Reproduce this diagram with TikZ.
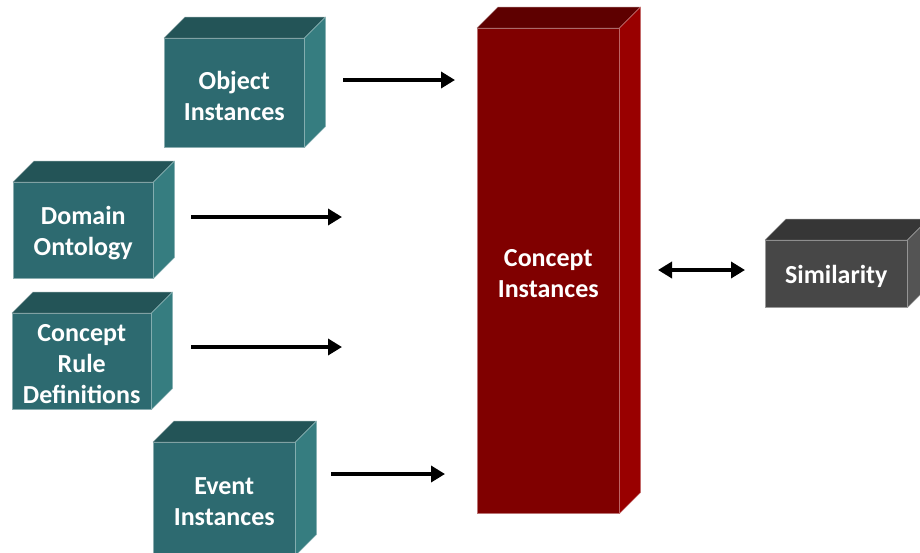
\documentclass[tikz,border=0pt]{standalone}
\usepackage{fontspec}
\setmainfont{Carlito}
\usetikzlibrary{arrows.meta}

\definecolor{tealfront}{HTML}{2D6A70}
\definecolor{tealtop}{HTML}{235457}
\definecolor{tealside}{HTML}{367D80}
\definecolor{redfront}{HTML}{800000}
\definecolor{redtop}{HTML}{5E0000}
\definecolor{redside}{HTML}{990000}
\definecolor{grayfront}{HTML}{474747}
\definecolor{graytop}{HTML}{363636}
\definecolor{grayside}{HTML}{545454}

\tikzset{
  frontface/.style={fill=#1, draw=#1!55!white, line width=0.5pt, inner sep=0pt,
    anchor=north west},
  sideface/.style={fill=#1, draw=#1!55!white, line width=0.5pt, line join=round},
  boxlabel/.style={align=center, text=white, inner sep=0pt,
    font=\bfseries\fontsize{26}{31}\selectfont},
  flow/.style={line width=4pt, -{Triangle[length=14pt,width=16pt]}},
  twoway/.style={line width=4pt,
    {Triangle[length=14pt,width=16pt]}-{Triangle[length=14pt,width=16pt]}},
}

% \blockbox{name}{x1}{y1}{x2}{y2}{front}{top}{side}{label}
\newcommand{\blockbox}[9]{%
  \node[frontface=#6, minimum width={(#4)-(#2)}, minimum height={(#5)-(#3)}]
    (#1) at (#2,#3) {};
  \path[sideface=#7] (#1.north west) -- ++(21,-21)
    -- ([shift={(21,-21)}]#1.north east) -- (#1.north east) -- cycle;
  \path[sideface=#8] (#1.north east) -- ++(21,-21)
    -- ([shift={(21,-21)}]#1.south east) -- (#1.south east) -- cycle;
  \node[boxlabel] (#1-text) at ([yshift=-3pt]#1.center) {#9};
}

\begin{document}
\begin{tikzpicture}[x=1pt, y=-1pt]
  \clip (0,0) rectangle (920,552);
  \fill[white] (0,0) rectangle (920,552);

  \blockbox{obj}{164}{38}{304}{147}{tealfront}{tealtop}{tealside}{Object\\Instances}
  \blockbox{dom}{13}{182}{153}{278}{tealfront}{tealtop}{tealside}{Domain\\Ontology}
  \blockbox{rule}{12}{313}{151}{409}{tealfront}{tealtop}{tealside}{Concept\\Rule\\Definitions}
  \blockbox{evt}{153}{442}{295}{555}{tealfront}{tealtop}{tealside}{Event\\Instances}
  \blockbox{ci}{477}{28}{619}{513}{redfront}{redtop}{redside}{Concept\\Instances}
  \blockbox{sim}{765}{240}{907}{307}{grayfront}{graytop}{grayside}{Similarity}

  % arrow end points
  \coordinate (objout) at (343,80);
  \coordinate (objin)  at (455,80);
  \coordinate (domout) at (191,217);
  \coordinate (domin)  at (342,217);
  \coordinate (ruleout) at (191,347);
  \coordinate (rulein)  at (342,347);
  \coordinate (evtout) at (331,474);
  \coordinate (evtin)  at (445,474);
  \coordinate (cisim)  at (658,270);
  \coordinate (simci)  at (745,270);

  \draw[flow] (objout) -- (objin);
  \draw[flow] (domout) -- (domin);
  \draw[flow] (ruleout) -- (rulein);
  \draw[flow] (evtout) -- (evtin);
  \draw[twoway] (cisim) -- (simci);
\end{tikzpicture}
\end{document}
